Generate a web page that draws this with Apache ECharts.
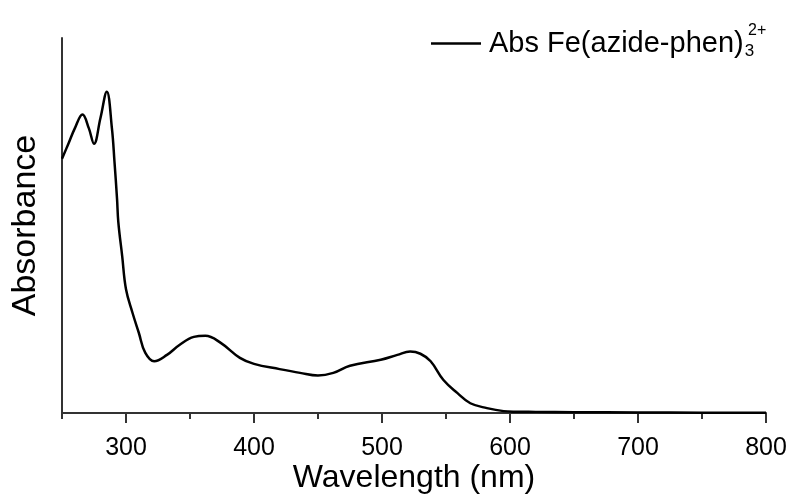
<!DOCTYPE html>
<html>
<head>
<meta charset="utf-8">
<script src="https://cdn.jsdelivr.net/npm/echarts@6/dist/echarts.min.js"></script>
<style>
    html, body { margin: 0; padding: 0; background: #fff; }
    #chart { width: 791px; height: 499px; }
</style>
</head>
<body>
<div id="chart"></div>
<script>
// 数据：波长 (nm) 与吸光度 (任意单位)
var wavelengths = [250, 255, 260, 266, 271, 275, 280, 285, 289, 291, 293, 294, 297, 300, 305, 310, 315, 322,
    332, 342, 353, 362, 374, 389, 400, 420, 436, 450, 462, 475, 499, 512, 522, 530, 538, 548, 559, 569,
    582, 595, 605, 620, 650, 700, 750, 800];
var absorbance = [0.678, 0.718, 0.759, 0.796, 0.759, 0.718, 0.786, 0.857, 0.759, 0.670, 0.571, 0.509, 0.419,
    0.330, 0.268, 0.214, 0.161, 0.138, 0.155, 0.182, 0.203, 0.206, 0.187, 0.147, 0.131, 0.117, 0.107, 0.100,
    0.107, 0.126, 0.142, 0.155, 0.164, 0.158, 0.138, 0.088, 0.053, 0.026, 0.013, 0.005, 0.0035, 0.003,
    0.002, 0.0015, 0.001, 0.001];
var majorTicks = [300, 400, 500, 600, 700, 800];
var minorTicks = [250, 350, 450, 550, 650, 750];
var seriesName = 'Abs Fe(azide-phen)3';

(function () {
    var myChart = echarts.init(document.getElementById('chart'));
    var font = 'Liberation Sans, Arial, sans-serif';
    var axisColor = '#333';

    var points = wavelengths.map(function (w, i) { return [w, absorbance[i]]; });

    var option = {
        animation: false,
        grid: {
            left: 62,
            right: 25,
            top: 38,
            bottom: 86,
            outerBoundsMode: 'none'
        },
        legend: {
            left: 426,
            top: 24,
            icon: 'rect',
            itemWidth: 50,
            itemHeight: 2.5,
            data: [seriesName],
            itemStyle: { color: '#000' },
            formatter: function () {
                return 'Abs Fe(azide-phen){sub|3}';
            },
            textStyle: {
                fontFamily: font,
                fontSize: 29,
                color: '#000',
                padding: [0, 0, 0, 3],
                rich: {
                    sub: {
                        fontFamily: font,
                        fontSize: 17,
                        color: '#000',
                        padding: [16, 0, 0, 1]
                    }
                }
            }
        },
        graphic: [
            {
                // 上标 2+（叠在下标 3 上方）
                type: 'text',
                left: 748,
                top: 23,
                style: {
                    text: '2+',
                    fontFamily: font,
                    fontSize: 16,
                    fill: '#000'
                }
            }
        ],
        xAxis: [
            {
                type: 'value',
                min: 250,
                max: 800,
                name: 'Wavelength (nm)',
                nameLocation: 'middle',
                nameGap: 49,
                nameMoveOverlap: false,
                nameTextStyle: { fontFamily: font, fontSize: 32, color: '#000' },
                axisLine: { lineStyle: { color: axisColor, width: 2 } },
                axisTick: { customValues: majorTicks, length: 10, lineStyle: { color: axisColor, width: 2 } },
                axisLabel: {
                    customValues: majorTicks,
                    margin: 23,
                    fontFamily: font,
                    fontSize: 25,
                    color: '#000'
                },
                splitLine: { show: false }
            },
            {
                // 次刻度
                type: 'value',
                position: 'bottom',
                min: 250,
                max: 800,
                axisLine: { show: false },
                axisTick: { customValues: minorTicks, length: 6, lineStyle: { color: axisColor, width: 2 } },
                axisLabel: { show: false },
                splitLine: { show: false }
            }
        ],
        yAxis: {
            type: 'value',
            min: 0,
            max: 1,
            name: 'Absorbance',
            nameLocation: 'middle',
            nameGap: 19,
            nameTextStyle: { fontFamily: font, fontSize: 34, color: '#000' },
            axisLine: { show: true, lineStyle: { color: axisColor, width: 2 } },
            axisTick: { show: false },
            axisLabel: { show: false },
            splitLine: { show: false }
        },
        series: [
            {
                name: seriesName,
                type: 'line',
                data: points,
                symbol: 'none',
                smooth: 0.4,
                lineStyle: { color: '#000', width: 2.5 },
                itemStyle: { color: '#000' }
            }
        ]
    };
    myChart.setOption(option);
})();
</script>
</body>
</html>
